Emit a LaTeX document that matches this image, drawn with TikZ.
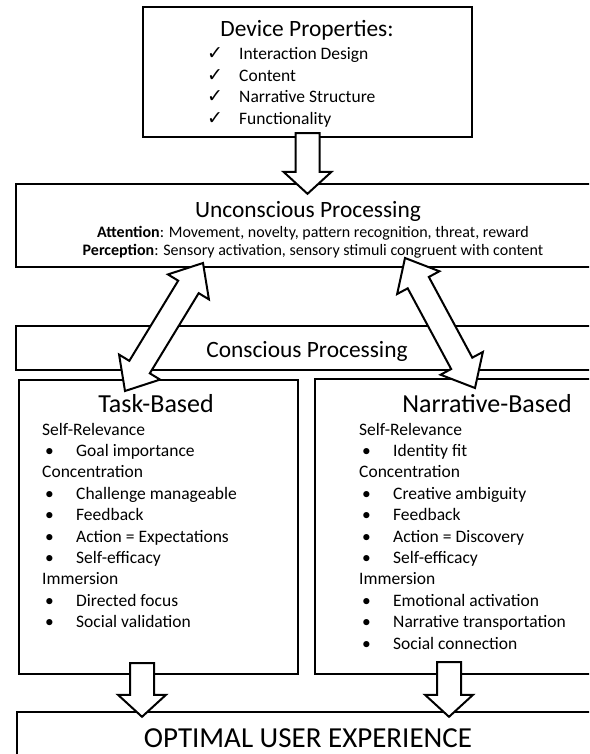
\documentclass[tikz,border=0pt]{standalone}
\usepackage{fontspec}
\setmainfont{Carlito}
\newfontfamily\symfont{DejaVu Sans}
\usetikzlibrary{positioning,calc}
\tikzset{box/.style={draw, line width=2.4pt, inner sep=0pt}}
\tikzset{hd/.style={inner sep=0pt, anchor=base, font=\fontsize{23.4}{28}\selectfont}}
\tikzset{sub/.style={inner sep=0pt, anchor=base, font=\fontsize{16}{19}\selectfont}}
\tikzset{lst/.style={inner sep=0pt, anchor=base west, font=\fontsize{17.5}{21.4}\selectfont}}
\tikzset{fatarrow/.style={draw, fill=white, line width=2pt, line join=miter,
    to path={(\tikztostart) coordinate (fa-a) (\tikztotarget) coordinate (fa-b)
      ($(fa-b)!22pt!(fa-a)$) coordinate (fa-h)
      ($(fa-a)!12pt!90:(fa-b)$) -- ($(fa-h)!12pt!90:(fa-b)$) -- ($(fa-h)!24pt!90:(fa-b)$)
      -- (fa-b) -- ($(fa-h)!24pt!-90:(fa-b)$) -- ($(fa-h)!12pt!-90:(fa-b)$)
      -- ($(fa-a)!12pt!-90:(fa-b)$) -- cycle}}}
\tikzset{fatdarrow/.style={draw, fill=white, line width=2pt, line join=miter,
    to path={(\tikztostart) coordinate (fa-a) (\tikztotarget) coordinate (fa-b)
      ($(fa-a)!28pt!(fa-b)$) coordinate (fa-g)
      ($(fa-b)!28pt!(fa-a)$) coordinate (fa-h)
      (fa-a) -- ($(fa-g)!24pt!90:(fa-b)$) -- ($(fa-g)!12pt!90:(fa-b)$)
      -- ($(fa-h)!12pt!90:(fa-b)$) -- ($(fa-h)!24pt!90:(fa-b)$) -- (fa-b)
      -- ($(fa-h)!24pt!-90:(fa-b)$) -- ($(fa-h)!12pt!-90:(fa-b)$)
      -- ($(fa-g)!12pt!-90:(fa-b)$) -- ($(fa-g)!24pt!-90:(fa-b)$) -- cycle}}}
\newcommand{\chk}{\makebox[32pt][l]{\symfont\fontsize{19}{19}\selectfont ✓}}
\newcommand{\bul}{\makebox[34pt][l]{\hspace*{3pt}•}}

\begin{document}
\begin{tikzpicture}[x=1pt, y=-1pt]
    \path[use as bounding box, clip] (0,0) rectangle (589,754);
    % boxes
    \node[box, minimum width=329pt, minimum height=130pt] (dev) at (307.5,72) {};
    \node[box, minimum width=588pt, minimum height=83pt] (unc) at (310,225.5) {};
    \node[box, minimum width=588pt, minimum height=44pt] (con) at (310,348) {};
    \node[box, minimum width=279pt, minimum height=294pt] (task) at (158.5,527) {};
    \node[box, minimum width=305pt, minimum height=295pt] (narr) at (467.5,526.5) {};
    \node[box, minimum width=587pt, minimum height=88pt] (ux) at (310.5,756) {};

    % texts
    \node[hd] (devtitle) at (307,37) {Device Properties:};
    \node[lst] (devlist) at (207,60) {\begin{tabular}[t]{@{}l@{}}
        \chk Interaction Design\\ \chk Content\\
        \chk Narrative Structure\\ \chk Functionality\end{tabular}};
    \node[hd] (unctitle) at (308,217) {Unconscious Processing};
    \node[sub] (attn) at (313,237) {\textbf{Attention}: Movement, novelty, pattern recognition, threat, reward};
    \node[sub] (perc) at (313,255) {\textbf{Perception}: Sensory activation, sensory stimuli congruent with content};
    \node[hd] (contitle) at (307,357) {Conscious Processing};
    \node[hd, font=\fontsize{26}{30}\selectfont] (tasktitle) at (156,412) {Task-Based};
    \node[lst] (tasklist) at (42,435) {\begin{tabular}[t]{@{}l@{}}
        Self-Relevance\\ \bul Goal importance\\
        Concentration\\ \bul Challenge manageable\\ \bul Feedback\\
        \bul Action = Expectations\\ \bul Self-efficacy\\
        Immersion\\ \bul Directed focus\\ \bul Social validation\end{tabular}};
    \node[hd, font=\fontsize{26}{30}\selectfont] (narrtitle) at (487,412) {Narrative-Based};
    \node[lst] (narrlist) at (359,435) {\begin{tabular}[t]{@{}l@{}}
        Self-Relevance\\ \bul Identity fit\\
        Concentration\\ \bul Creative ambiguity\\ \bul Feedback\\
        \bul Action = Discovery\\ \bul Self-efficacy\\
        Immersion\\ \bul Emotional activation\\ \bul Narrative transportation\\
        \bul Social connection\end{tabular}};
    \node[hd, font=\fontsize{29}{34}\selectfont] (uxtitle) at (308,747) {OPTIMAL USER EXPERIENCE};

    % block arrows
    \coordinate (a1s) at ($(dev.south)+(0,-5)$);
    \coordinate (a1e) at ($(dev.south |- unc.north)+(0,11)$);
    \coordinate (a2s) at (125,391);
    \coordinate (a2e) at (203,263);
    \coordinate (a3s) at (475,388);
    \coordinate (a3e) at (405,258);
    \coordinate (a4s) at ($(task.south)+(-16.5,-12)$);
    \coordinate (a4e) at ($(a4s |- ux.north)+(0,6)$);
    \coordinate (a5s) at (449,662);
    \coordinate (a5e) at ($(a5s |- ux.north)+(0,6)$);
    \draw[fatarrow] (a1s) to (a1e);
    \draw[fatdarrow] (a2s) to (a2e);
    \draw[fatdarrow] (a3s) to (a3e);
    \draw[fatarrow] (a4s) to (a4e);
    \draw[fatarrow] (a5s) to (a5e);
\end{tikzpicture}
\end{document}
